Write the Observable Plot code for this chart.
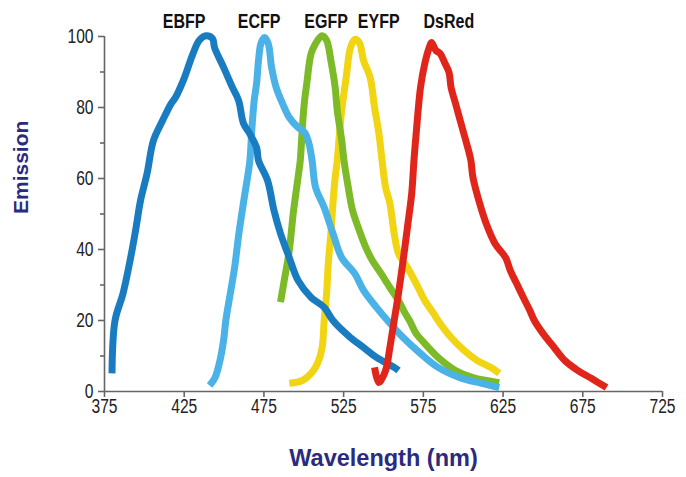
<!DOCTYPE html>
<html>
<head>
<meta charset="utf-8">
<script src="https://cdn.jsdelivr.net/npm/d3@7"></script>
<script src="https://cdn.jsdelivr.net/npm/@observablehq/plot@0.6"></script>
<style>
  html, body { margin: 0; padding: 0; background: #fff; }
  #chart svg { display: block; }
  g[aria-label="x-axis tick"], g[aria-label="y-axis tick"] { stroke: #666; stroke-width: 1.6; }
</style>
</head>
<body>
<div id="chart"></div>
<script>
// ---- data ----
const seriesNames = ["EBFP", "ECFP", "EGFP", "EYFP", "DsRed"];
const seriesColors = ["#1a7cc0", "#4ab2e7", "#7cba28", "#f1d412", "#e0261b"];
const labelWavelength = [425, 472, 514, 547, 591];

const ebfpWavelength = [379.7, 381.6, 386.6, 391.9, 394.8, 397.6, 401.7, 405.7, 411.4, 416.8, 419.5, 425.2, 430.5, 434.6, 438.7, 442.8, 444.0, 449.7, 455.3, 459.1, 462.2, 466.0, 470.4, 471.6, 477.3, 481.3, 485.4, 490.9, 496.4, 504.6, 512.8, 518.3, 529.3, 537.5, 545.6, 556.7, 559.4];
const ebfpEmission   = [5.1, 20.0, 27.6, 38.9, 46.2, 53.8, 61.4, 70.7, 76.3, 81.1, 82.8, 88.5, 95.2, 99.0, 100.2, 99.4, 96.9, 91.3, 85.6, 82.0, 75.5, 72.7, 68.7, 65.1, 59.4, 51.0, 44.5, 37.7, 31.3, 26.5, 23.7, 20.0, 15.2, 12.4, 9.6, 6.8, 5.9];

const ecfpWavelength = [440.9, 444.3, 447.0, 449.7, 451.1, 453.9, 456.6, 459.3, 462.1, 464.7, 466.2, 467.5, 468.9, 470.4, 471.6, 473.1, 475.3, 477.7, 479.8, 482.7, 486.7, 490.9, 496.4, 500.5, 503.2, 505.2, 507.4, 512.8, 518.3, 523.8, 532.0, 537.5, 545.6, 552.5, 562.3, 573.2, 584.2, 597.9, 611.5, 622.6];
const ecfpEmission   = [1.7, 3.9, 7.9, 14.4, 20.0, 27.6, 34.9, 44.5, 53.0, 60.3, 65.1, 74.4, 82.0, 86.8, 93.2, 98.0, 99.7, 98.0, 91.3, 85.6, 81.1, 77.2, 74.4, 73.0, 69.9, 65.1, 57.5, 51.8, 44.5, 37.7, 33.2, 28.5, 23.7, 20.0, 15.2, 10.7, 6.8, 3.9, 2.3, 1.1];

const egfpWavelength = [485.4, 488.1, 490.9, 493.6, 496.4, 497.8, 499.1, 500.5, 501.9, 504.6, 507.4, 511.4, 514.3, 517.0, 519.7, 521.0, 523.8, 525.2, 527.9, 530.6, 534.8, 538.9, 543.0, 548.5, 554.0, 559.4, 563.6, 566.3, 570.5, 575.9, 584.2, 595.2, 606.1, 622.6];
const egfpEmission   = [25.2, 32.2, 39.7, 51.0, 60.3, 65.1, 74.4, 82.0, 86.8, 95.2, 98.0, 100.2, 98.9, 93.2, 85.6, 79.2, 70.7, 65.1, 57.5, 51.0, 45.4, 40.6, 36.9, 33.2, 29.3, 25.6, 22.0, 20.0, 16.3, 13.5, 9.6, 5.9, 3.9, 2.5];

const eyfpWavelength = [490.9, 499.1, 504.6, 508.6, 511.5, 512.8, 514.3, 515.5, 517.0, 518.3, 519.7, 521.0, 522.4, 523.8, 526.6, 529.3, 532.0, 534.8, 537.5, 541.6, 544.4, 547.1, 549.1, 551.3, 554.0, 556.7, 559.4, 565.0, 570.5, 575.9, 581.4, 584.2, 592.4, 600.7, 608.9, 617.2, 622.6];
const eyfpEmission   = [2.3, 3.1, 5.1, 7.9, 12.4, 20.0, 27.6, 36.9, 44.5, 53.0, 60.3, 65.1, 72.7, 79.2, 88.5, 96.9, 99.2, 98.3, 93.2, 88.5, 80.0, 72.7, 65.1, 57.5, 53.0, 44.5, 38.9, 34.9, 30.4, 25.6, 22.0, 20.0, 15.2, 11.5, 8.7, 6.8, 5.1];

const dsredWavelength = [544.4, 547.1, 551.3, 554.0, 556.7, 559.4, 562.3, 565.0, 567.7, 569.1, 570.5, 573.2, 575.9, 578.7, 580.1, 582.8, 585.5, 588.3, 591.1, 592.4, 595.2, 599.3, 602.1, 604.8, 606.1, 610.3, 614.4, 619.9, 626.6, 629.5, 633.5, 637.7, 641.8, 644.6, 650.1, 657.0, 663.8, 672.0, 680.3, 689.9];
const dsredEmission   = [6.8, 2.5, 5.9, 12.4, 20.0, 27.6, 36.9, 46.2, 55.8, 65.1, 72.7, 85.6, 92.4, 96.9, 98.3, 96.1, 95.2, 92.7, 89.9, 85.6, 81.1, 74.4, 69.9, 65.1, 60.3, 53.0, 47.3, 41.7, 37.7, 34.1, 30.4, 26.5, 22.8, 20.0, 16.3, 12.4, 8.7, 5.9, 3.7, 1.1];

const xTicks = [375, 425, 475, 525, 575, 625, 675, 725];
const yTicks = [0, 20, 40, 60, 80, 100];
const yMinorTicks = [10, 30, 50, 70, 90];
const xDomain = [375, 725];
const yDomain = [0, 100];
const xTitle = "Wavelength (nm)";
const yTitle = "Emission";

// ---- build table ----
const wl = [ebfpWavelength, ecfpWavelength, egfpWavelength, eyfpWavelength, dsredWavelength];
const em = [ebfpEmission, ecfpEmission, egfpEmission, eyfpEmission, dsredEmission];
const series = seriesNames.map((name, i) => ({
  name, color: seriesColors[i],
  points: wl[i].map((w, j) => ({name, wavelength: w, emission: em[i][j]}))
}));
const drawOrder = ["EYFP", "EGFP", "ECFP", "EBFP", "DsRed"];
const labels = seriesNames.map((name, i) => ({name, wavelength: labelWavelength[i], emission: yDomain[1]}));

const font = "'Liberation Sans', Arial, Helvetica, sans-serif";

const chart = Plot.plot({
  width: 686,
  height: 477,
  marginLeft: 104,
  marginRight: 24,
  marginTop: 36,
  marginBottom: 86,
  style: {fontFamily: font, fontSize: "19px", color: "#222", background: "#fff"},
  x: {domain: xDomain},
  y: {domain: yDomain},
  marks: [
    Plot.ruleY([yDomain[0]], {stroke: "#666", strokeWidth: 1.6}),
    Plot.ruleX([xDomain[0]], {stroke: "#666", strokeWidth: 1.6}),
    Plot.axisX(xTicks, {tickSize: 6, tickPadding: 2, label: null, fontSize: 19.5}),
    Plot.axisY(yTicks, {tickSize: 6, tickPadding: 5, label: null, fontSize: 19.5}),
    Plot.axisY(yMinorTicks, {tickSize: 4, tickFormat: () => "", label: null}),
    ...drawOrder.map(n => {
      const s = series.find(d => d.name === n);
      return Plot.line(s.points, {
        x: "wavelength", y: "emission",
        stroke: s.color, strokeWidth: 7, curve: "catmull-rom",
        strokeLinejoin: "round", strokeLinecap: "butt"
      });
    }),
    Plot.text(labels, {
      x: "wavelength", y: "emission", text: "name",
      lineAnchor: "bottom", dy: -9, fontWeight: "bold", fontSize: 20, fill: "#111"
    }),
    Plot.text([yTitle], {
      frameAnchor: "left", dx: -83, rotate: -90, text: d => d,
      fontWeight: "bold", fontSize: 21, fill: "#2b2a7e"
    }),
    Plot.text([xTitle], {
      frameAnchor: "bottom", dy: 74, lineAnchor: "bottom", text: d => d,
      fontWeight: "bold", fontSize: 23.5, fill: "#2b2a7e"
    })
  ]
});
document.getElementById("chart").appendChild(chart);

// condense tick labels and series labels (emulates a condensed typeface);
// the horizontal anchor position is preserved.
const squeeze = 0.8;
d3.select(chart).selectAll("text").each(function () {
  const t = d3.select(this);
  const content = t.text();
  if (content === xTitle || content === yTitle) return;
  const xa = t.attr("x");
  if (xa != null && /^-?[\d.]+$/.test(xa)) t.attr("x", (+xa) / squeeze);
  const tr = t.attr("transform") || "";
  t.attr("transform", `${tr} scale(${squeeze},1)`);
});
</script>
</body>
</html>
